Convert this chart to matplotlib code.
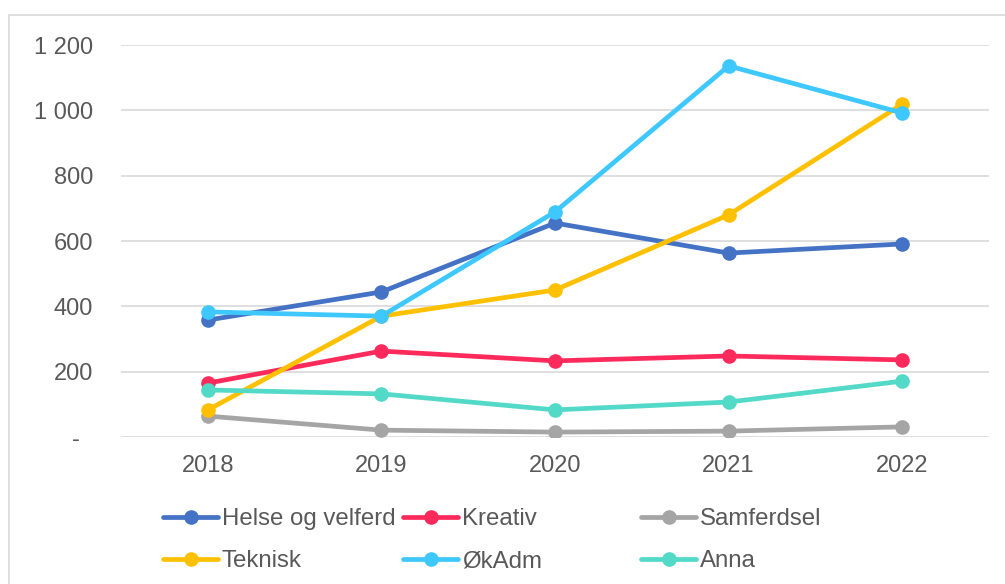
import matplotlib.pyplot as plt
from matplotlib.patches import Rectangle

# Data
years = ["2018", "2019", "2020", "2021", "2022"]
helse = [358, 444, 655, 563, 591]
kreativ = [165, 263, 233, 248, 236]
samferdsel = [64, 21, 15, 18, 31]
teknisk = [83, 370, 450, 680, 1019]
okadm = [383, 370, 689, 1136, 992]
anna = [144, 132, 83, 107, 171]

names = ["Helse og velferd", "Kreativ", "Samferdsel", "Teknisk", "ØkAdm", "Anna"]
series = [helse, kreativ, samferdsel, teknisk, okadm, anna]
colors = ["#4472C4", "#FF2A5C", "#A5A5A5", "#FFC000", "#3EC8FF", "#52D9C8"]

plt.rcParams["font.family"] = ["Liberation Sans", "DejaVu Sans"]
txt = "#595959"

fig = plt.figure(figsize=(10.05, 5.84), dpi=100)
ax = fig.add_axes([121 / 1005, 1 - 437 / 584, 868 / 1005, 392 / 584])

# chart area border (light grey)
fig.patches.append(Rectangle((9 / 1005, -0.1), 1.2, 1 - 15 / 584 + 0.1,
                             transform=fig.transFigure, fill=False,
                             edgecolor="#D9D9D9", linewidth=1.2))

x = list(range(len(years)))
lines = []
for name, vals, c in zip(names, series, colors):
    ln, = ax.plot(x, vals, color=c, linewidth=3.4, marker="o", markersize=9.5,
                  label=name, solid_capstyle="round")
    lines.append(ln)

ax.set_xlim(-0.5, 4.5)
ax.set_ylim(0, 1200)
ax.set_yticks([0, 200, 400, 600, 800, 1000, 1200])
ax.set_yticklabels(["-  ", "200", "400", "600", "800", "1 000", "1 200"])
ax.set_xticks(x)
ax.set_xticklabels(years)
ax.tick_params(axis="both", length=0, labelsize=17, labelcolor=txt)
ax.tick_params(axis="y", pad=20)
ax.tick_params(axis="x", pad=13)
ax.grid(axis="y", color="#D9D9D9", linewidth=1.2)
ax.set_axisbelow(True)
for s in ax.spines.values():
    s.set_visible(False)

# legend: three equal columns like Excel
col_x = [163, 403, 641]
for i, cx in enumerate(col_x):
    leg = fig.legend([lines[i], lines[i + 3]], [names[i], names[i + 3]],
                     loc="upper left", bbox_to_anchor=(cx / 1005, 1 - 508 / 584),
                     frameon=False, fontsize=17.3, labelcolor=txt,
                     handlelength=2.3, handletextpad=0.15, borderpad=0,
                     borderaxespad=0, labelspacing=0.85)

fig.savefig("out.png", dpi=100)
